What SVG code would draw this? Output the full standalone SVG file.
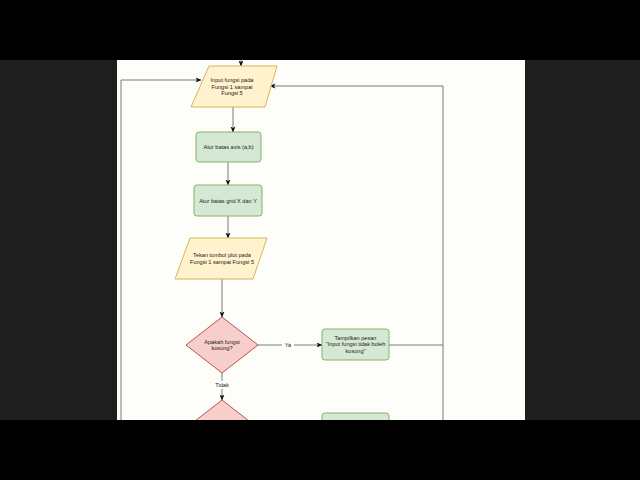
<svg xmlns="http://www.w3.org/2000/svg" width="640" height="480" viewBox="0 0 640 480">
<defs>
<style>
.t{font-family:"Liberation Sans",Arial,sans-serif;font-size:5.6px;fill:#222;text-anchor:middle}
.io{fill:#fff2cc;stroke:#d6b656;stroke-width:1;stroke-linejoin:round}
.pr{fill:#d5e8d4;stroke:#82b366;stroke-width:1}
.dc{fill:#f8cecc;stroke:#b85450;stroke-width:1;stroke-linejoin:round}
.ln{fill:none;stroke:#7a7a7a;stroke-width:1}
.lb{fill:#fdfdf9}
</style>
<marker id="ah" markerUnits="userSpaceOnUse" markerWidth="6" markerHeight="6" viewBox="0 0 6 6" refX="5.5" refY="3" orient="auto">
<path d="M0,0.5 L6,3 L0,5.5 L1.5,3 z" fill="#111"/>
</marker>
</defs>
<rect x="0" y="0" width="640" height="480" fill="#1e1e1e"/>
<rect x="117" y="60" width="408" height="360" fill="#fdfdf9"/>

<g id="connectors">
<line class="ln" x1="241" y1="60" x2="241" y2="66" marker-end="url(#ah)"/>
<line class="ln" x1="233" y1="107" x2="233" y2="132" marker-end="url(#ah)"/>
<line class="ln" x1="228" y1="162" x2="228" y2="185" marker-end="url(#ah)"/>
<line class="ln" x1="228" y1="216" x2="228" y2="238" marker-end="url(#ah)"/>
<line class="ln" x1="222" y1="279" x2="222" y2="317" marker-end="url(#ah)"/>
<line class="ln" x1="258" y1="345" x2="322" y2="345" marker-end="url(#ah)"/>
<line class="ln" x1="222" y1="373" x2="222" y2="400" marker-end="url(#ah)"/>
<polyline class="ln" points="389,345 443,345 443,86 270,86" marker-end="url(#ah)"/>
<line class="ln" x1="443" y1="420" x2="443" y2="345"/>
<polyline class="ln" points="121,420 121,80 201,80" marker-end="url(#ah)"/>
<rect class="lb" x="282" y="341" width="12" height="8"/>
<text class="t" x="288" y="347">Ya</text>
<rect class="lb" x="214" y="381" width="16" height="8"/>
<text class="t" x="222" y="387">Tidak</text>
</g>

<g id="input1">
<polygon class="io" points="209,66 277,66 265,107 191,107"/>
<text class="t" x="232" y="82">Input fungsi pada</text>
<text class="t" x="232" y="88.5">Fungsi 1 sampai</text>
<text class="t" x="232" y="95">Fungsi 5</text>
</g>

<g id="axis">
<rect class="pr" x="196" y="132" width="65" height="30" rx="3"/>
<text class="t" x="228.5" y="149">Atur batas axis (a,b)</text>
</g>

<g id="grid">
<rect class="pr" x="194" y="185" width="68" height="31" rx="3"/>
<text class="t" x="228" y="202.5">Atur batas grid X dan Y</text>
</g>

<g id="plot">
<polygon class="io" points="190,238 267,238 253,279 175,279"/>
<text class="t" x="222" y="257">Tekan tombol plot pada</text>
<text class="t" x="222" y="264">Fungsi 1 sampai Fungsi 5</text>
</g>

<g id="cek1">
<polygon class="dc" points="222,317 258,345 222,373 186,345"/>
<text class="t" x="222" y="343.5">Apakah fungsi</text>
<text class="t" x="222" y="350">kosong?</text>
</g>

<g id="pesan1">
<rect class="pr" x="322" y="329" width="67" height="31" rx="3"/>
<text class="t" x="355.5" y="339.5">Tampilkan pesan</text>
<text class="t" x="355.5" y="346">"Input fungsi tidak boleh</text>
<text class="t" x="355.5" y="352.5">kosong"</text>
</g>

<g id="cek2">
<polygon class="dc" points="222,400 258,428 222,456 186,428"/>
</g>

<g id="pesan2">
<rect class="pr" x="322" y="413" width="67" height="31" rx="3"/>
</g>

<rect x="0" y="0" width="640" height="60" fill="#000"/>
<rect x="0" y="420" width="640" height="60" fill="#000"/>
</svg>
